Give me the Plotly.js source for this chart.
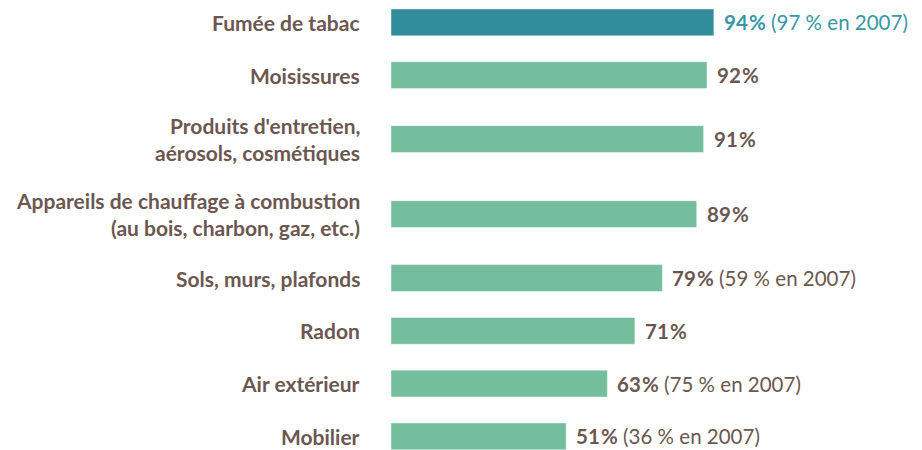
<!DOCTYPE html>
<html>
<head>
<meta charset="utf-8">
<script src="https://cdn.plot.ly/plotly-3.0.1.min.js"></script>
<style>html,body{margin:0;padding:0;background:#fff;}#chart{width:922px;height:450px;}</style>
</head>
<body>
<div id="chart"></div>
<script>
// ---- data ----
const categories = [
  "Fumée de tabac",
  "Moisissures",
  "Produits d'entretien,<br>aérosols, cosmétiques",
  "Appareils de chauffage à combustion<br>(au bois, charbon, gaz, etc.)",
  "Sols, murs, plafonds",
  "Radon",
  "Air extérieur",
  "Mobilier"
];
const values = [94, 92, 91, 89, 79, 71, 63, 51];
const labels2007 = ["97 % en 2007", "", "", "", "59 % en 2007", "", "75 % en 2007", "36 % en 2007"];
const highlightIndex = 0;

// ---- style ----
const FONT = "Lato, 'Open Sans', sans-serif";
const BROWN = "#6B5750";
const TEAL_BAR = "#318C9C";
const TEAL_TEXT = "#3797A7";
const GREEN_BAR = "#74BE9E";
const FS_CAT = 21, FS_VAL = 20.5;
const BASE_GAP = 53, EXTRA_GAP = 11.2, LINE_H = 26.7, BAR_W = 27;

// vertical slots depend on number of label lines
const nLines = categories.map(c => c.split("<br>").length);
const pos = [];
categories.forEach((c, i) => {
  if (i === 0) pos.push(0);
  else pos.push(pos[i - 1] + BASE_GAP + EXTRA_GAP * ((nLines[i - 1] - 1) + (nLines[i] - 1)));
});

const barColors = values.map((v, i) => i === highlightIndex ? TEAL_BAR : GREEN_BAR);

const trace = {
  type: "bar",
  orientation: "h",
  x: values,
  y: pos,
  width: BAR_W,
  marker: { color: barColors, line: { color: "rgba(255,255,255,0.45)", width: 1 } },
  hoverinfo: "skip"
};

const annotations = [];
// category labels (one annotation per line for exact line spacing)
categories.forEach((c, i) => {
  const lines = c.split("<br>");
  lines.forEach((ln, j) => {
    annotations.push({
      xref: "paper", yref: "y", x: 0, y: pos[i],
      xanchor: "right", yanchor: "middle",
      xshift: -29, yshift: -(j - (lines.length - 1) / 2) * LINE_H,
      text: "<b>" + ln + "</b>", showarrow: false,
      font: { family: FONT, size: FS_CAT, color: BROWN }
    });
  });
});
// value labels
values.forEach((v, i) => {
  const col = i === highlightIndex ? TEAL_TEXT : BROWN;
  let t = "<b>" + v + "\u200A%</b>";
  if (labels2007[i]) t += " (" + labels2007[i] + ")";
  annotations.push({
    xref: "x", yref: "y", x: v, y: pos[i],
    xanchor: "left", yanchor: "middle", xshift: 8,
    text: t, showarrow: false,
    font: { family: FONT, size: FS_VAL, color: col }
  });
});

const PX_PER_UNIT = 3.435;
const layout = {
  width: 922, height: 450,
  margin: { l: 391, r: 0, t: 0, b: 0 },
  paper_bgcolor: "#fff", plot_bgcolor: "#fff",
  showlegend: false,
  xaxis: { range: [0, 531 / PX_PER_UNIT], visible: false, fixedrange: true },
  yaxis: { range: [pos[pos.length - 1] + 13.7, -22.5], visible: false, fixedrange: true },
  annotations: annotations,
  font: { family: FONT }
};

Plotly.newPlot("chart", [trace], layout, { displayModeBar: false, staticPlot: true });
</script>
</body>
</html>
